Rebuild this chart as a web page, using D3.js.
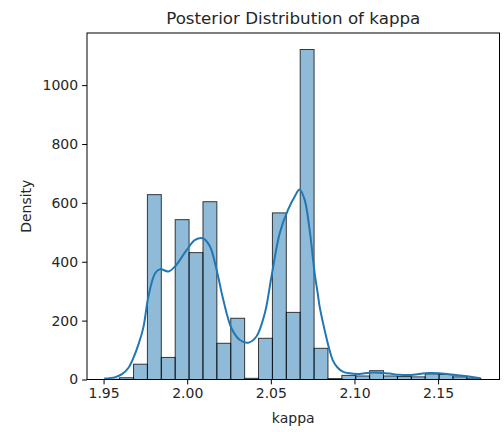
<!DOCTYPE html>
<html>
<head>
<meta charset="utf-8">
<script src="https://cdn.jsdelivr.net/npm/d3@7"></script>
<style>
  body { margin: 0; background: #fff; }
  text { font-family: "DejaVu Sans", sans-serif; fill: #262626; }
</style>
</head>
<body>
<svg id="canvas" width="504" height="432"></svg>
<script>
// histogram: 27 equal bins starting at binStart
let binStart = 1.9513
let binWidth = 0.008304
let binHeights = [1, 6, 52, 628, 75, 543, 431, 604, 123, 208, 4, 140, 566, 228, 1121,
                  106, 3, 14, 12, 30, 12, 10, 9, 19, 17, 9, 5]

// kde curve
let kdeX = [1.9504, 1.9570, 1.9610, 1.9649, 1.9679, 1.9709, 1.9738, 1.9768, 1.9808, 1.9838,
            1.9887, 1.9927, 1.9997, 2.0047, 2.0093, 2.0136, 2.0176, 2.0216, 2.0265, 2.0315,
            2.0365, 2.0414, 2.0464, 2.0504, 2.0553, 2.0603, 2.0643, 2.0672, 2.0702, 2.0732,
            2.0762, 2.0781, 2.0791, 2.0811, 2.0831, 2.0851, 2.0870, 2.0900, 2.0930, 2.0970,
            2.1029, 2.1089, 2.1149, 2.1209, 2.1268, 2.1328, 2.1447, 2.1507, 2.1606, 2.1685, 2.1751]
let kdeY = [3, 8, 18, 40, 74, 120, 177, 282, 361, 375,
            367, 384, 440, 474, 480, 452, 372, 270, 174, 134,
            125, 146, 225, 350, 497, 577, 622, 645, 611, 508,
            361, 290, 250, 195, 145, 100, 66, 40, 27, 21,
            19, 23, 23, 20, 16, 15, 22, 21, 15, 10, 4]

let xTicks = [1.95, 2.00, 2.05, 2.10, 2.15]
let yTicks = [0, 200, 400, 600, 800, 1000]

let canvas = d3.select("#canvas")

let plotLeft = 87
let plotRight = 499.5
let plotTop = 33
let plotBottom = 379.5

let binEnd = binStart + binHeights.length * binWidth
let span = binEnd - binStart

let xScale = d3.scaleLinear()
                .domain([binStart - 0.05 * span, binEnd + 0.05 * span])
                .range([plotLeft, plotRight])

let yScale = d3.scaleLinear()
                .domain([0, d3.max(binHeights) * 1.05])
                .range([plotBottom, plotTop])

let bins = binHeights.map((h, i) => {
    return { x0: binStart + i * binWidth, x1: binStart + (i + 1) * binWidth, h: h }
})

canvas.append("rect")
        .attr("width", 504)
        .attr("height", 432)
        .attr("fill", "#fff")

canvas.selectAll(".bar")
        .data(bins)
        .enter()
        .append("rect")
        .attr("class", "bar")
        .attr("x", (d) => xScale(d.x0))
        .attr("width", (d) => xScale(d.x1) - xScale(d.x0))
        .attr("y", (d) => yScale(d.h))
        .attr("height", (d) => yScale(0) - yScale(d.h))
        .attr("fill", "rgba(31,119,180,0.5)")
        .attr("stroke", "#000")
        .attr("stroke-opacity", 0.75)
        .attr("stroke-width", 1)

let kdeLine = d3.line()
                .x((d, i) => xScale(kdeX[i]))
                .y((d) => yScale(d))
                .curve(d3.curveCatmullRom)

canvas.append("path")
        .datum(kdeY)
        .attr("d", kdeLine)
        .attr("fill", "none")
        .attr("stroke", "#1f77b4")
        .attr("stroke-width", 2)

// axes
let xAxis = d3.axisBottom(xScale)
                .tickValues(xTicks)
                .tickFormat(d3.format(".2f"))
                .tickSizeInner(4.9)
                .tickSizeOuter(0)
                .tickPadding(4)

let yAxis = d3.axisLeft(yScale)
                .tickValues(yTicks)
                .tickFormat(d3.format("d"))
                .tickSizeInner(4.9)
                .tickSizeOuter(0)
                .tickPadding(4)

let gx = canvas.append("g")
        .attr("transform", "translate(0," + plotBottom + ")")
        .call(xAxis)
gx.select(".domain").remove()

let gy = canvas.append("g")
        .attr("transform", "translate(" + plotLeft + ",0)")
        .call(yAxis)
gy.select(".domain").remove()

canvas.selectAll(".tick line").attr("stroke", "#000").attr("stroke-width", 1)
canvas.selectAll(".tick text")
        .style("font-size", "14px")
        .style("font-family", "DejaVu Sans")
        .attr("fill", "#262626")

canvas.append("rect")
        .attr("x", plotLeft)
        .attr("y", plotTop)
        .attr("width", plotRight - plotLeft)
        .attr("height", plotBottom - plotTop)
        .attr("fill", "none")
        .attr("stroke", "#000")
        .attr("stroke-width", 1)

canvas.append("text")
        .attr("x", (plotLeft + plotRight) / 2)
        .attr("y", 23.5)
        .attr("text-anchor", "middle")
        .style("font-size", "16.7px")
        .text("Posterior Distribution of kappa")

canvas.append("text")
        .attr("x", (plotLeft + plotRight) / 2)
        .attr("y", 423)
        .attr("text-anchor", "middle")
        .style("font-size", "14px")
        .text("kappa")

canvas.append("text")
        .attr("transform", "translate(31," + (plotTop + plotBottom) / 2 + ") rotate(-90)")
        .attr("text-anchor", "middle")
        .style("font-size", "14px")
        .text("Density")
</script>
</body>
</html>
